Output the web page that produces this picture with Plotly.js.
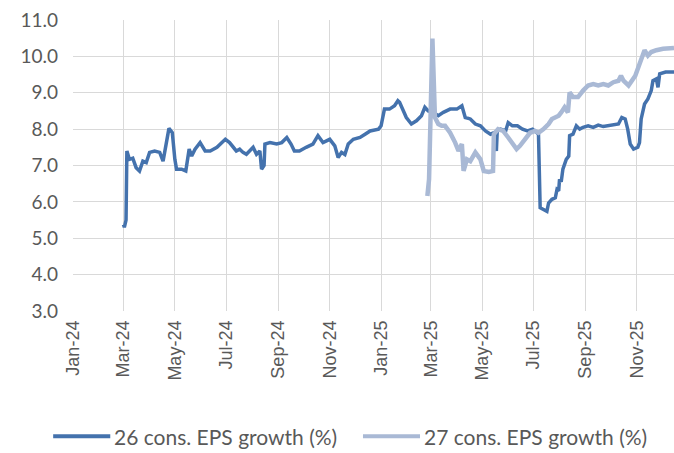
<!DOCTYPE html>
<html>
<head>
<meta charset="utf-8">
<script src="https://cdn.plot.ly/plotly-3.0.1.min.js"></script>
<style>
  html, body { margin: 0; padding: 0; background: #ffffff; }
  #chart { width: 674px; height: 453px; }
</style>
</head>
<body>
<div id="chart"></div>
<script>
// 2026 consensus EPS growth (%)
const dates26 = [
  "2024-03-01","2024-03-02","2024-03-04","2024-03-05","2024-03-08","2024-03-12","2024-03-16","2024-03-20",
  "2024-03-24","2024-03-28","2024-04-01","2024-04-07","2024-04-13","2024-04-17","2024-04-24","2024-04-28",
  "2024-05-01","2024-05-03","2024-05-09","2024-05-14","2024-05-18","2024-05-21","2024-05-25","2024-05-31",
  "2024-06-06","2024-06-12","2024-06-20","2024-06-30","2024-07-05","2024-07-13","2024-07-17","2024-07-21",
  "2024-07-25","2024-08-02","2024-08-06","2024-08-10","2024-08-12","2024-08-15","2024-08-16","2024-08-22",
  "2024-08-30","2024-09-05","2024-09-11","2024-09-16","2024-09-20","2024-09-26","2024-10-04","2024-10-12",
  "2024-10-18","2024-10-24","2024-11-01","2024-11-07","2024-11-11","2024-11-15","2024-11-19","2024-11-23",
  "2024-11-29","2024-12-07","2024-12-13","2024-12-19","2024-12-29","2025-01-01","2025-01-05","2025-01-11",
  "2025-01-17","2025-01-21","2025-01-23","2025-01-27","2025-01-31","2025-02-06","2025-02-12","2025-02-18",
  "2025-02-22","2025-02-26","2025-03-04","2025-03-10","2025-03-16","2025-03-24","2025-04-01","2025-04-07",
  "2025-04-11","2025-04-17","2025-04-23","2025-04-29","2025-05-05","2025-05-11","2025-05-15","2025-05-18",
  "2025-05-19","2025-05-23","2025-05-29","2025-06-01","2025-06-06","2025-06-12","2025-06-18","2025-06-24",
  "2025-06-30","2025-07-05","2025-07-07","2025-07-09","2025-07-13","2025-07-17","2025-07-19","2025-07-23",
  "2025-07-27","2025-07-29","2025-07-31","2025-08-01","2025-08-03","2025-08-05","2025-08-09","2025-08-12",
  "2025-08-13","2025-08-17","2025-08-21","2025-08-25","2025-08-29","2025-09-04","2025-09-10","2025-09-16",
  "2025-09-22","2025-09-28","2025-10-04","2025-10-10","2025-10-14","2025-10-18","2025-10-21","2025-10-24",
  "2025-10-28","2025-11-02","2025-11-04","2025-11-06","2025-11-10","2025-11-14","2025-11-18","2025-11-20",
  "2025-11-24","2025-11-26","2025-11-28","2025-12-05","2025-12-15"
];
const eps26 = [
  5.38,5.30,5.50,7.40,7.17,7.20,6.94,6.85,
  7.12,7.08,7.36,7.40,7.36,7.12,8.02,7.90,
  7.17,6.90,6.90,6.85,7.45,7.26,7.45,7.63,
  7.40,7.40,7.50,7.72,7.63,7.40,7.45,7.36,
  7.31,7.50,7.31,7.40,6.90,7.00,7.59,7.63,
  7.59,7.63,7.77,7.59,7.40,7.40,7.50,7.59,
  7.82,7.63,7.72,7.54,7.22,7.36,7.30,7.59,
  7.72,7.77,7.86,7.95,8.00,8.09,8.55,8.55,
  8.64,8.78,8.74,8.55,8.32,8.14,8.23,8.37,
  8.60,8.50,8.46,8.37,8.46,8.55,8.55,8.64,
  8.32,8.28,8.14,8.09,7.95,7.86,7.90,7.40,
  7.95,8.00,7.95,8.18,8.09,8.09,8.00,7.95,
  8.00,7.90,7.86,5.84,5.79,5.74,5.97,6.07,
  6.11,6.34,6.30,6.62,6.55,6.90,7.17,7.26,
  7.82,7.86,8.09,8.00,8.05,8.09,8.05,8.11,
  8.07,8.09,8.11,8.14,8.32,8.28,8.00,7.59,
  7.45,7.50,7.63,8.28,8.69,8.83,9.06,9.33,
  9.38,9.15,9.52,9.57,9.57
];

// 2027 consensus EPS growth (%)
const dates27 = [
  "2025-02-25","2025-02-27","2025-03-03","2025-03-05","2025-03-06","2025-03-10","2025-03-14","2025-03-18",
  "2025-03-24","2025-03-30","2025-04-03","2025-04-07","2025-04-09","2025-04-13","2025-04-17","2025-04-23",
  "2025-04-29","2025-05-03","2025-05-09","2025-05-14","2025-05-15","2025-05-20","2025-05-26","2025-06-01",
  "2025-06-07","2025-06-11","2025-06-15","2025-06-21","2025-06-27","2025-07-03","2025-07-07","2025-07-13",
  "2025-07-19","2025-07-23","2025-07-27","2025-07-31","2025-08-03","2025-08-07","2025-08-11","2025-08-13",
  "2025-08-17","2025-08-23","2025-08-29","2025-09-04","2025-09-10","2025-09-16","2025-09-22","2025-09-28",
  "2025-10-04","2025-10-10","2025-10-13","2025-10-16","2025-10-22","2025-10-26","2025-10-30","2025-11-02",
  "2025-11-06","2025-11-10","2025-11-14","2025-11-18","2025-11-24","2025-12-02","2025-12-15"
];
const eps27 = [
  6.16,6.62,10.49,8.64,8.32,8.14,8.09,8.09,
  7.90,7.63,7.40,7.59,6.85,7.17,7.12,7.36,
  7.17,6.85,6.82,6.85,7.86,8.00,7.95,7.77,
  7.59,7.45,7.54,7.72,7.90,7.95,7.90,8.00,
  8.14,8.28,8.32,8.37,8.46,8.60,8.46,9.01,
  8.88,8.88,9.06,9.20,9.24,9.20,9.24,9.20,
  9.29,9.33,9.47,9.33,9.20,9.33,9.47,9.66,
  9.89,10.17,10.02,10.12,10.17,10.21,10.23
];

const seriesNames = ["26 cons. EPS growth (%)", "27 cons. EPS growth (%)"];
const seriesColors = ["#4472ad", "#a9b9d5"];
const seriesWidths = [3.5, 4.5];

const traces = [
  {
    x: dates26, y: eps26, name: seriesNames[0], type: "scatter", mode: "lines",
    line: { color: seriesColors[0], width: seriesWidths[0] }
  },
  {
    x: dates27, y: eps27, name: seriesNames[1], type: "scatter", mode: "lines",
    line: { color: seriesColors[1], width: seriesWidths[1] }
  }
];

// Legend drawn below the plot: a long swatch line followed by the series name
const legendY = -0.43;
const legendItems = [
  { x0: -0.033, x1: 0.062, tx: 0.065 },
  { x0: 0.4825, x1: 0.5774, tx: 0.5807 }
];
const legendShapes = legendItems.map((it, i) => ({
  type: "line", xref: "paper", yref: "paper",
  x0: it.x0, x1: it.x1, y0: legendY, y1: legendY,
  line: { color: seriesColors[i], width: 4 }
}));
const legendLabels = legendItems.map((it, i) => ({
  xref: "paper", yref: "paper", x: it.tx, y: legendY,
  xanchor: "left", yanchor: "middle", showarrow: false,
  text: seriesNames[i],
  font: { family: "Lato, sans-serif", size: 21, color: "#595959" }
}));

const layout = {
  width: 674,
  height: 453,
  margin: { l: 73, r: 0, t: 20, b: 142 },
  paper_bgcolor: "#ffffff",
  plot_bgcolor: "#ffffff",
  showlegend: false,
  shapes: legendShapes,
  annotations: legendLabels,
  xaxis: {
    type: "date",
    range: ["2024-01-01", "2025-12-15"],
    tick0: "2024-01-01",
    dtick: "M2",
    tickformat: "%b-%y",
    tickangle: -90,
    ticks: "",
    ticklabelstandoff: 5,
    showgrid: true,
    gridcolor: "#d9d9d9",
    gridwidth: 1,
    zeroline: false,
    showline: false,
    tickfont: { family: "Liberation Sans, Arial, sans-serif", size: 18, color: "#595959" }
  },
  yaxis: {
    range: [3, 11],
    dtick: 1,
    tick0: 3,
    tickformat: ".1f",
    ticks: "",
    ticklabelstandoff: 14,
    showgrid: true,
    gridcolor: "#d9d9d9",
    gridwidth: 1,
    zeroline: false,
    showline: false,
    tickfont: { family: "Lato, sans-serif", size: 19, color: "#595959" }
  }
};

Plotly.newPlot("chart", traces, layout, { staticPlot: true, displayModeBar: false });
</script>
</body>
</html>
